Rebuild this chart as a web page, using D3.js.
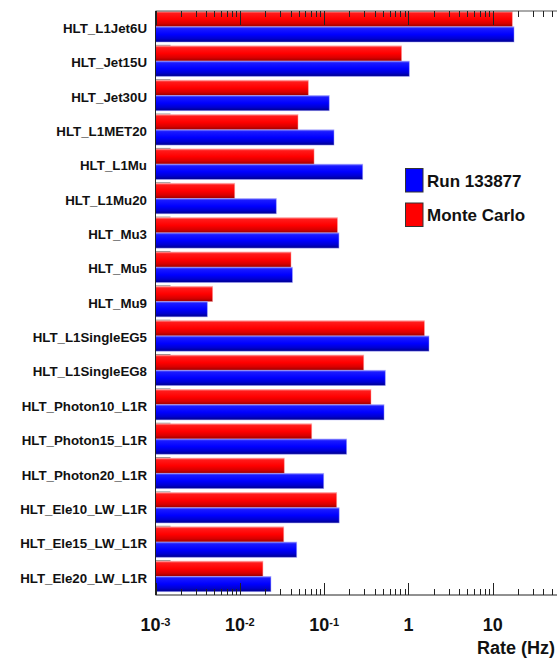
<!DOCTYPE html>
<html>
<head>
<meta charset="utf-8">
<script src="https://cdn.jsdelivr.net/npm/d3@7/dist/d3.min.js"></script>
<style>
  html, body { margin: 0; padding: 0; background: #fff; }
  svg { display: block; }
  text { font-family: "Liberation Sans", Arial, Helvetica, sans-serif; font-weight: bold; fill: #111; }
</style>
</head>
<body>
<svg id="chart" width="557" height="658"></svg>
<script>
// Trigger paths, rates in Hz
const triggers = [
  "HLT_L1Jet6U", "HLT_Jet15U", "HLT_Jet30U", "HLT_L1MET20", "HLT_L1Mu",
  "HLT_L1Mu20", "HLT_Mu3", "HLT_Mu5", "HLT_Mu9", "HLT_L1SingleEG5",
  "HLT_L1SingleEG8", "HLT_Photon10_L1R", "HLT_Photon15_L1R", "HLT_Photon20_L1R",
  "HLT_Ele10_LW_L1R", "HLT_Ele15_LW_L1R", "HLT_Ele20_LW_L1R"
];
const monteCarlo = [
  17.1, 0.83, 0.065, 0.049, 0.076,
  0.0087, 0.144, 0.0405, 0.00476, 1.55,
  0.295, 0.36, 0.0713, 0.0337,
  0.141, 0.0332, 0.0188
];
const run133877 = [
  17.9, 1.025, 0.115, 0.131, 0.287,
  0.0271, 0.150, 0.0421, 0.00412, 1.755,
  0.532, 0.514, 0.185, 0.0989,
  0.151, 0.0473, 0.0234
];
const tickLabels = [
  { v: 1e-3, base: "10", sup: "-3" },
  { v: 1e-2, base: "10", sup: "-2" },
  { v: 1e-1, base: "10", sup: "-1" },
  { v: 1,    base: "1",  sup: "" },
  { v: 10,   base: "10", sup: "" }
];
const seriesNames = ["Run 133877", "Monte Carlo"];

const svg = d3.select("#chart");
const plotTop = 11, plotBottom = 595, plotLeft = 155.5;

const x = d3.scaleLog().domain([1e-3, 100]).range([plotLeft, plotLeft + 5 * 84.3]);
const y = d3.scaleBand().domain(triggers).range([plotTop, plotBottom]);
const sub = d3.scaleBand().domain(["mc", "data"]).range([0.5, 31]);

// vertical shading for the bars
const defs = svg.append("defs");
function grad(id, stops) {
  const g = defs.append("linearGradient").attr("id", id)
    .attr("x1", 0).attr("y1", 0).attr("x2", 0).attr("y2", 1);
  stops.forEach(([o, c]) => g.append("stop").attr("offset", o).attr("stop-color", c));
}
grad("gRed",  [[0, "#ff8a8a"], [0.12, "#ff1a1a"], [0.5, "#ff0000"], [0.78, "#d80000"], [1, "#980000"]]);
grad("gBlue", [[0, "#7a7aff"], [0.12, "#1a1aff"], [0.5, "#0000ff"], [0.78, "#0000d0"], [1, "#00008a"]]);

// category boundary ticks on the left axis
svg.append("g").selectAll("line")
  .data(triggers.slice(1))
  .join("line")
  .attr("x1", plotLeft).attr("x2", plotLeft + 15)
  .attr("y1", d => y(d)).attr("y2", d => y(d))
  .attr("stroke", "#888").attr("stroke-width", 1);

const rows = triggers.map((t, i) => ({ t, mc: monteCarlo[i], data: run133877[i] }));

const gBars = svg.append("g");
gBars.selectAll("rect.mc")
  .data(rows).join("rect").attr("class", "mc")
  .attr("x", plotLeft)
  .attr("y", d => y(d.t) + sub("mc"))
  .attr("width", d => x(d.mc) - plotLeft)
  .attr("height", sub.bandwidth())
  .attr("fill", "url(#gRed)")
  .attr("stroke", "#ff9a9a").attr("stroke-opacity", 0.6).attr("stroke-width", 0.8);
gBars.selectAll("rect.data")
  .data(rows).join("rect").attr("class", "data")
  .attr("x", plotLeft)
  .attr("y", d => y(d.t) + sub("data"))
  .attr("width", d => x(d.data) - plotLeft)
  .attr("height", sub.bandwidth())
  .attr("fill", "url(#gBlue)")
  .attr("stroke", "#9a9aff").attr("stroke-opacity", 0.6).attr("stroke-width", 0.8);

// category labels
svg.append("g").selectAll("text")
  .data(triggers).join("text")
  .attr("x", 147)
  .attr("y", d => y(d) + y.bandwidth() / 2)
  .attr("dy", "0.36em")
  .attr("text-anchor", "end")
  .style("font-size", "13.3px")
  .text(d => d);

// frame lines
svg.append("line").attr("x1", plotLeft).attr("x2", 557).attr("y1", plotTop).attr("y2", plotTop)
  .attr("stroke", "#555").attr("stroke-width", 1);
svg.append("line").attr("x1", plotLeft).attr("x2", 557).attr("y1", plotBottom).attr("y2", plotBottom)
  .attr("stroke", "#222").attr("stroke-width", 1);
svg.append("line").attr("x1", plotLeft).attr("x2", plotLeft).attr("y1", plotTop).attr("y2", plotBottom)
  .attr("stroke", "#222").attr("stroke-width", 1);

// log ticks on top and bottom edges
const ticks = x.ticks().filter(v => v <= 60);
const isMajor = v => Math.abs(Math.log10(v) - Math.round(Math.log10(v))) < 1e-9;
const tickG = svg.append("g");
tickG.selectAll("line.b").data(ticks).join("line").attr("class", "b")
  .attr("x1", d => Math.round(x(d)) + 0.5).attr("x2", d => Math.round(x(d)) + 0.5)
  .attr("y1", plotBottom).attr("y2", d => plotBottom - (isMajor(d) ? 12 : 6))
  .attr("stroke", "#222").attr("stroke-width", 1);
tickG.selectAll("line.t").data(ticks).join("line").attr("class", "t")
  .attr("x1", d => Math.round(x(d)) + 0.5).attr("x2", d => Math.round(x(d)) + 0.5)
  .attr("y1", plotTop).attr("y2", d => plotTop + (isMajor(d) ? 14 : 6))
  .attr("stroke", "#222").attr("stroke-width", 1);

// tick labels
const tl = svg.append("g").selectAll("text")
  .data(tickLabels).join("text")
  .attr("x", d => x(d.v))
  .attr("y", 631)
  .attr("text-anchor", "middle")
  .style("font-size", "18px");
tl.append("tspan").text(d => d.base);
tl.filter(d => d.sup).append("tspan")
  .attr("dy", "-0.45em")
  .style("font-size", "11px")
  .text(d => d.sup);

// axis title
svg.append("text")
  .attr("x", 555).attr("y", 654)
  .attr("text-anchor", "end")
  .style("font-size", "18px")
  .text("Rate (Hz)");

// legend
const legendColors = ["#0000ff", "#ff0000"];
const lg = svg.append("g").selectAll("g")
  .data(seriesNames).join("g")
  .attr("transform", (d, i) => `translate(405.5, ${168.5 + i * 34.5})`);
lg.append("rect")
  .attr("width", 17.5).attr("height", 23.5)
  .attr("fill", (d, i) => legendColors[i])
  .attr("stroke", "#333").attr("stroke-width", 1);
lg.append("text")
  .attr("x", 21.5).attr("y", 12)
  .attr("dy", "0.36em")
  .style("font-size", "17px")
  .text(d => d);
</script>
</body>
</html>
